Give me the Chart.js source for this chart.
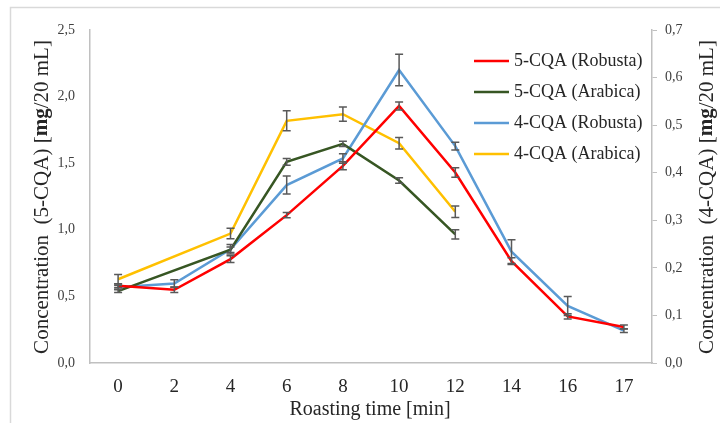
<!DOCTYPE html>
<html>
<head>
<meta charset="utf-8">
<script src="https://cdn.jsdelivr.net/npm/chart.js@4.4.1/dist/chart.umd.min.js"></script>
<style>
  body { margin: 0; background: #fff; }
  canvas { display: block; }
</style>
</head>
<body>
<canvas id="myChart" width="720" height="423"></canvas>
<script>
// roasting times (min)
var times = ['0', '2', '4', '6', '8', '10', '12', '14', '16', '17'];

// 5-CQA, left axis
var cqa5Robusta = [0.58, 0.55, 0.78, 1.11, 1.48, 1.93, 1.43, 0.765, 0.35, 0.27];
var cqa5RobustaErr = [0.015, 0.02, 0.025, 0.02, 0.03, 0.03, 0.035, 0.025, 0.02, 0.015];
var cqa5Arabica = [0.54, null, 0.85, 1.51, 1.645, 1.37, 0.966, null, null, null];
var cqa5ArabicaErr = [0.01, 0, 0.02, 0.025, 0.02, 0.02, 0.035, 0, 0, 0];

// 4-CQA, right axis
var cqa4Robusta = [0.159, 0.167, 0.239, 0.374, 0.43, 0.616, 0.456, 0.234, 0.12, 0.068];
var cqa4RobustaErr = [0.004, 0.008, 0.01, 0.019, 0.01, 0.033, 0.008, 0.025, 0.02, 0.004];
var cqa4Arabica = [0.176, null, 0.272, 0.509, 0.523, 0.462, 0.318, null, null, null];
var cqa4ArabicaErr = [0.01, 0, 0.011, 0.021, 0.015, 0.012, 0.012, 0, 0, 0];

var leftTicks = { min: 0, max: 2.5, step: 0.5 };
var rightTicks = { min: 0, max: 0.7, step: 0.1 };

var serif = '"Liberation Serif", "Times New Roman", serif';
var axisColor = '#c0c0c0';

function comma(v) {
  return Number(v).toFixed(1).replace('.', ',');
}

// frame round the whole figure
var framePlugin = {
  id: 'frame',
  beforeDraw: function (chart) {
    var c = chart.ctx;
    c.save();
    c.fillStyle = '#fff';
    c.fillRect(0, 0, chart.width, chart.height);
    c.strokeStyle = '#d9d9d9';
    c.lineWidth = 1.5;
    c.strokeRect(10.5, 7.5, 900, 600);
    c.restore();
  }
};

// vertical error bars on each point
var errorBarPlugin = {
  id: 'errorBars',
  afterDatasetsDraw: function (chart) {
    var c = chart.ctx;
    c.save();
    c.strokeStyle = '#595959';
    c.lineWidth = 1.5;
    chart.data.datasets.forEach(function (ds, i) {
      var meta = chart.getDatasetMeta(i);
      var scale = chart.scales[ds.yAxisID];
      ds.data.forEach(function (v, j) {
        var e = ds.errors[j];
        if (v === null || !e) return;
        var x = meta.data[j].x;
        var top = scale.getPixelForValue(v + e);
        var bot = scale.getPixelForValue(v - e);
        c.beginPath();
        c.moveTo(x, top); c.lineTo(x, bot);
        c.moveTo(x - 4, top); c.lineTo(x + 4, top);
        c.moveTo(x - 4, bot); c.lineTo(x + 4, bot);
        c.stroke();
      });
    });
    c.restore();
  }
};

// text pieces with bold "mg"
function drawRich(c, parts, size, cx, cy, rot) {
  c.save();
  c.translate(cx, cy);
  c.rotate(rot);
  var total = 0;
  parts.forEach(function (p) {
    c.font = (p.b ? 'bold ' : '') + size + 'px ' + serif;
    p.w = c.measureText(p.t).width;
    total += p.w;
  });
  var x = -total / 2;
  c.textBaseline = 'middle';
  c.textAlign = 'left';
  parts.forEach(function (p) {
    c.font = (p.b ? 'bold ' : '') + size + 'px ' + serif;
    c.fillText(p.t, x, 0);
    x += p.w;
  });
  c.restore();
}

var titlesPlugin = {
  id: 'titles',
  afterDraw: function (chart) {
    var c = chart.ctx;
    c.fillStyle = '#262626';
    drawRich(c, [{ t: 'Concentration  (5-CQA) [' }, { t: 'mg', b: true }, { t: '/20 mL]' }], 21, 42, 197, -Math.PI / 2);
    drawRich(c, [{ t: 'Concentration  (4-CQA) [' }, { t: 'mg', b: true }, { t: '/20 mL]' }], 21, 707, 197, -Math.PI / 2);
    drawRich(c, [{ t: 'Roasting time [min]' }], 20, 370, 410, 0);

    // legend inside the plot
    c.save();
    c.font = '18px ' + serif;
    c.textBaseline = 'middle';
    chart.data.datasets.forEach(function (ds, i) {
      var y = 61 + i * 31;
      c.strokeStyle = ds.borderColor;
      c.lineWidth = 2.5;
      c.beginPath();
      c.moveTo(474, y); c.lineTo(509, y);
      c.stroke();
      c.fillStyle = '#262626';
      c.fillText(ds.label, 514, y);
    });
    c.restore();
  }
};

function line(label, data, errors, color, axis) {
  return {
    label: label,
    data: data,
    errors: errors,
    yAxisID: axis,
    borderColor: color,
    backgroundColor: color,
    borderWidth: 2.5,
    pointRadius: 0,
    tension: 0,
    spanGaps: true
  };
}

new Chart(document.getElementById('myChart'), {
  type: 'line',
  data: {
    labels: times,
    datasets: [
      line('5-CQA (Robusta)', cqa5Robusta, cqa5RobustaErr, '#ff0000', 'yLeft'),
      line('5-CQA (Arabica)', cqa5Arabica, cqa5ArabicaErr, '#375623', 'yLeft'),
      line('4-CQA (Robusta)', cqa4Robusta, cqa4RobustaErr, '#5b9bd5', 'yRight'),
      line('4-CQA (Arabica)', cqa4Arabica, cqa4ArabicaErr, '#ffc000', 'yRight')
    ]
  },
  options: {
    responsive: false,
    animation: false,
    layout: { padding: { top: 30, left: 0, right: 0, bottom: 0 } },
    plugins: {
      legend: { display: false },
      tooltip: { enabled: false }
    },
    scales: {
      x: {
        offset: true,
        grid: { drawOnChartArea: false, drawTicks: false },
        border: { color: axisColor, width: 1.5 },
        ticks: { color: '#262626', padding: 13, font: { family: serif, size: 19 } },
        afterFit: function (s) { s.height = 60; }
      },
      yLeft: {
        position: 'left',
        min: leftTicks.min,
        max: leftTicks.max,
        grid: { drawOnChartArea: false, drawTicks: false },
        border: { color: axisColor, width: 1.5 },
        ticks: {
          stepSize: leftTicks.step,
          padding: 15,
          color: '#404040',
          font: { family: serif, size: 14 },
          callback: comma
        },
        afterFit: function (s) { s.width = 90; }
      },
      yRight: {
        position: 'right',
        min: rightTicks.min,
        max: rightTicks.max,
        grid: { drawOnChartArea: false, drawTicks: true, tickLength: 5, color: axisColor },
        border: { color: axisColor, width: 1.5 },
        ticks: {
          stepSize: rightTicks.step,
          padding: 8,
          color: '#404040',
          font: { family: serif, size: 14 },
          callback: comma
        },
        afterFit: function (s) { s.width = 68; }
      }
    }
  },
  plugins: [framePlugin, errorBarPlugin, titlesPlugin]
});
</script>
</body>
</html>
